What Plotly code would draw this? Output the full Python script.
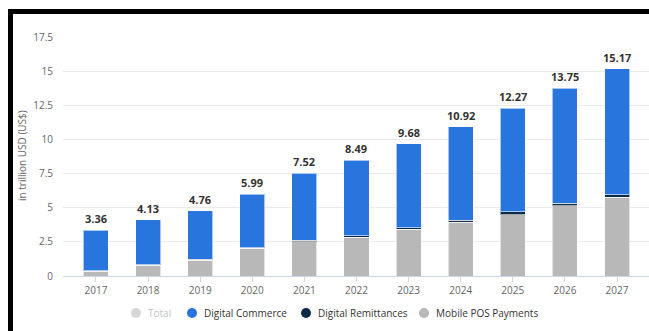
import plotly.graph_objects as go

years = ["2017", "2018", "2019", "2020", "2021", "2022", "2023", "2024", "2025", "2026", "2027"]
totals = [3.36, 4.13, 4.76, 5.99, 7.52, 8.49, 9.68, 10.92, 12.27, 13.75, 15.17]
mobile_pos = [0.35, 0.78, 1.17, 2.02, 2.52, 2.85, 3.43, 3.95, 4.50, 5.15, 5.75]
remittances = [0.02, 0.03, 0.04, 0.06, 0.08, 0.10, 0.12, 0.15, 0.20, 0.18, 0.20]
commerce = [round(t - m - r, 2) for t, m, r in zip(totals, mobile_pos, remittances)]

y_ticks = [0, 2.5, 5, 7.5, 10, 12.5, 15, 17.5]
y_tick_text = ["0", "2.5", "5", "7.5", "10", "12.5", "15", "17.5"]

legend_names = ["Total", "Digital Commerce", "Digital Remittances", "Mobile POS Payments"]

C_COMMERCE = "#2876dd"
C_REMIT = "#0f2a47"
C_POS = "#b8b8b8"
C_TOTAL = "#d6d6d6"

W, H = 649, 331
L, R, T, B = 63, 0, 37, 55
PW, PH = W - L - R, H - T - B

def px_x(px):
    return (px - L) / PW

def px_y(py):
    return (H - B - py) / PH

fig = go.Figure()
edge = dict(color="rgba(255,255,255,0.6)", width=1)
fig.add_bar(x=years, y=mobile_pos, marker=dict(color=C_POS, line=edge), name="Mobile POS Payments")
fig.add_bar(x=years, y=remittances, marker=dict(color=C_REMIT, line=edge), name="Digital Remittances")
fig.add_bar(x=years, y=commerce, marker=dict(color=C_COMMERCE, line=edge), name="Digital Commerce")

# total value above each stacked bar (category index as x)
for i, t in enumerate(totals):
    fig.add_annotation(x=i, y=t, text=f"<b>{t:.2f}</b>", showarrow=False,
                       yanchor="bottom", yshift=2,
                       font=dict(size=11, color="#333333", family="Open Sans"))

fig.add_annotation(xref="paper", yref="paper", x=px_x(22), y=px_y(156),
                   xanchor="center", yanchor="middle",
                   text="in trillion USD (US$)", textangle=-90, showarrow=False,
                   font=dict(size=10, color="#666666", family="Open Sans"))

# legend row: round dot + label for each series ("Total" is shown switched off)
legend_cols = [C_TOTAL, C_COMMERCE, C_REMIT, C_POS]
legend_text_cols = ["#c4c4c4", "#333333", "#333333", "#333333"]
legend_dot_px = [136, 192, 306, 424]
ly = 313
for name, col, tcol, dx in zip(legend_names, legend_cols, legend_text_cols, legend_dot_px):
    fig.add_shape(type="circle", xref="paper", yref="paper",
                  x0=px_x(dx - 5), x1=px_x(dx + 5), y0=px_y(ly + 5), y1=px_y(ly - 5),
                  fillcolor=col, line=dict(width=0))
    fig.add_annotation(xref="paper", yref="paper", x=px_x(dx + 10), y=px_y(ly),
                       xanchor="left", yanchor="middle", text=name, showarrow=False,
                       font=dict(size=10, color=tcol, family="Open Sans"))

# black frame along the top and left edges
black = dict(color="black", width=0)
fig.add_shape(type="rect", xref="paper", yref="paper",
              x0=px_x(8), x1=px_x(13), y0=px_y(331), y1=px_y(9),
              fillcolor="black", line=black, layer="above")
fig.add_shape(type="rect", xref="paper", yref="paper",
              x0=px_x(8), x1=px_x(649), y0=px_y(14), y1=px_y(9),
              fillcolor="black", line=black, layer="above")

fig.update_layout(
    width=W, height=H,
    margin=dict(l=L, r=R, t=T, b=B, pad=0),
    barmode="stack", bargap=0.52, showlegend=False,
    plot_bgcolor="white", paper_bgcolor="white",
    font=dict(family="Open Sans", size=10, color="#666666"),
    xaxis=dict(type="category", range=[-0.633, 10.614], showgrid=False,
               showline=True, linecolor="#ccd6eb", linewidth=1,
               ticks="outside", ticklen=5, tickcolor="#ccd6eb",
               tickfont=dict(size=10, color="#666666")),
    yaxis=dict(range=[0, 17.5], tickvals=y_ticks, ticktext=y_tick_text,
               showgrid=True, gridcolor="#ebebeb", gridwidth=1, zeroline=False,
               ticklabelstandoff=9, tickfont=dict(size=10, color="#666666")),
)

fig.write_html("out.html")
